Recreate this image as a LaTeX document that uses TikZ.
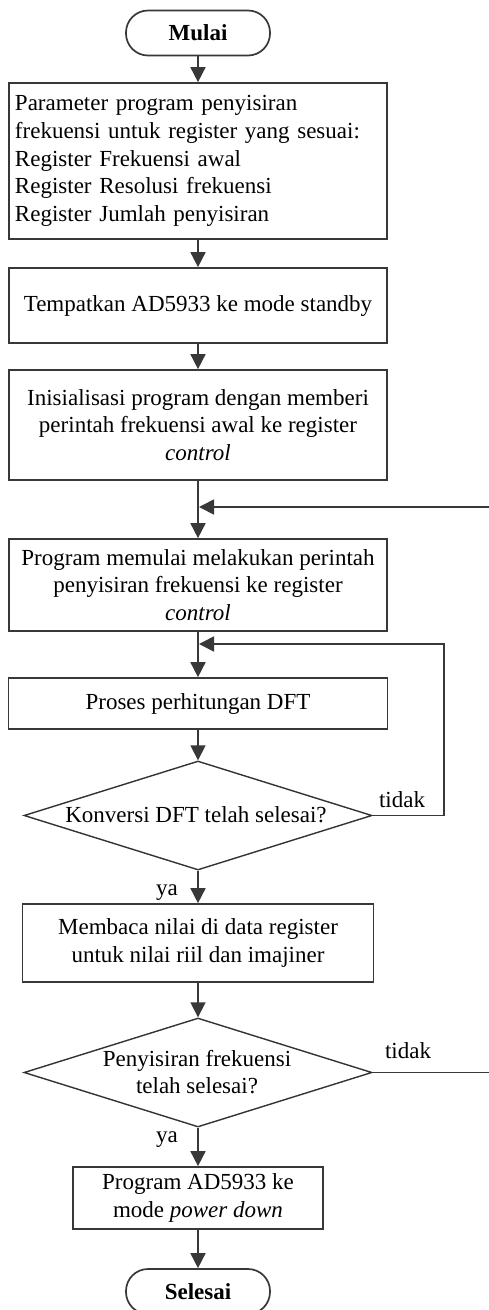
\documentclass[tikz,border=0pt]{standalone}
\usepackage{fontspec}
\setmainfont{Liberation Serif}
\usetikzlibrary{shapes.geometric,arrows.meta,calc}
\begin{document}
\begin{tikzpicture}[x=1pt,y=-1pt,
  every node/.style={font=\fontsize{23}{27.7}\selectfont},
  proc/.style={draw=black!78, line width=1.7pt, rectangle, inner sep=0pt, align=center},
  term/.style={draw=black!78, line width=1.7pt, rectangle, rounded corners=22pt, minimum width=144pt, minimum height=45pt, inner sep=0pt, font=\fontsize{23}{27.7}\selectfont\bfseries},
  dec/.style={draw=black!80, line width=1.4pt, diamond, inner sep=0pt, minimum width=348pt, minimum height=109pt},
  flow/.style={draw=black!78, line width=1.7pt, -{Triangle[width=15pt,length=15pt]}},
  lbl/.style={inner sep=0pt}
]
\useasboundingbox (0,0) rectangle (489,1310);
\fill[white] (0,0) rectangle (489,1310);

% nodes
\node[term] (m) at (198,33) {Mulai};
\node[proc, minimum width=378pt, minimum height=156pt, text width=366pt, align=left] (b1) at (198,161)
  {Parameter program penyisiran\\frekuensi untuk register yang sesuai:\\Register Frekuensi awal\\Register Resolusi frekuensi\\Register Jumlah penyisiran};
\node[proc, minimum width=378pt, minimum height=75pt] (b2) at (198,305.5) {Tempatkan AD5933 ke mode standby};
\node[proc, minimum width=378pt, minimum height=110pt] (b3) at (198,425)
  {Inisialisasi program dengan memberi\\perintah frekuensi awal ke register\\\textit{control}};
\node[proc, minimum width=378pt, minimum height=92pt] (b4) at (198,585)
  {Program memulai melakukan perintah\\penyisiran frekuensi ke register\\\textit{control}};
\node[proc, minimum width=379pt, minimum height=51pt] (b5) at (198,703.5) {Proses perhitungan DFT};
\node[dec] (d1) at (198,815.5) {};
\node[lbl] (d1t) at (196,815) {Konversi DFT telah selesai?};
\node[proc, minimum width=351pt, minimum height=78pt] (b6) at (198,943)
  {Membaca nilai di data register\\untuk nilai riil dan imajiner};
\node[dec] (d2) at (198,1072.5) {};
\node[lbl, align=center] (d2t) at (197,1072) {Penyisiran frekuensi\\telah selesai?};
\node[proc, minimum width=250pt, minimum height=62pt] (b7) at (198,1198)
  {Program AD5933 ke\\mode \textit{power down}};
\node[term] (s) at (198,1291.5) {Selesai};

% labels
\node[lbl] (t1) at (402,800) {tidak};
\node[lbl] (t2) at (408,1051) {tidak};
\node[lbl, anchor=base] (y1) at (167,895) {ya};
\node[lbl, anchor=base] (y2) at (167,1142) {ya};

% junction coordinates
\coordinate (j1) at (199,507);
\coordinate (j2) at (199,644);
\coordinate (r1) at (444,0);
\coordinate (r2) at (490,0);

% connectors
\draw[flow] (m.south) -- (b1.north);
\draw[flow] (b1.south) -- (b2.north);
\draw[flow] (b2.south) -- (b3.north);
\draw[flow] (b3.south) -- (b4.north);
\draw[flow] (b4.south) -- (b5.north);
\draw[flow] (b5.south) -- (d1.north);
\draw[flow] (d1.south) -- (b6.north);
\draw[flow] (b6.south) -- (d2.north);
\draw[flow] (d2.south) -- (b7.north);
\draw[flow] (b7.south) -- (s.north);
\draw[flow] (d1.east) -- (d1.east -| r1) |- (j2);
\draw[flow] (d2.east) -- (d2.east -| r2) |- (j1);
\end{tikzpicture}
\end{document}
